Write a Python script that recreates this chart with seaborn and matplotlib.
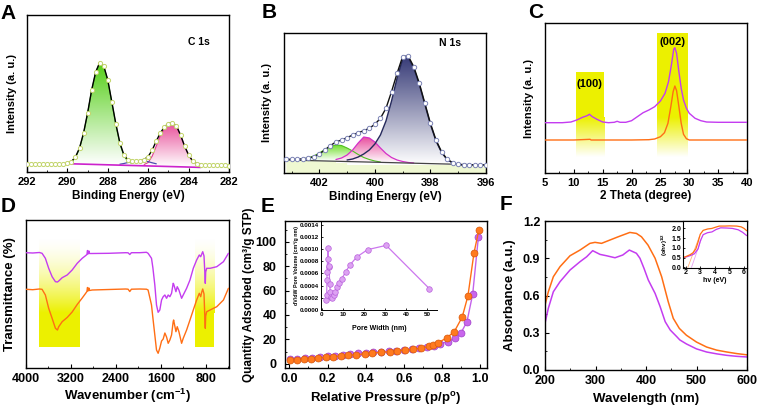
import numpy as np
import matplotlib
matplotlib.use("Agg")
import matplotlib.pyplot as plt
import seaborn as sns
from matplotlib.colors import LinearSegmentedColormap
from matplotlib.patches import Rectangle
from matplotlib.ticker import MultipleLocator, FormatStrFormatter

# =========================
# DATA
# =========================

# A - C 1s XPS
a_env_x = [292.0, 291.8, 291.6, 291.4, 291.2, 291.0, 290.8, 290.6, 290.4, 290.2,
           290.0, 289.8, 289.6, 289.4, 289.2, 289.0, 288.8, 288.6, 288.4, 288.2,
           288.0, 287.8, 287.6, 287.4, 287.2, 287.0, 286.8, 286.6, 286.4, 286.2,
           286.0, 285.8, 285.6, 285.4, 285.2, 285.0, 284.8, 284.6, 284.4, 284.2,
           284.0, 283.8, 283.6, 283.4, 283.2, 283.0, 282.8, 282.6, 282.4, 282.2, 282.0]
a_env_y = [7.7, 7.7, 7.7, 7.7, 7.7, 7.7, 7.7, 7.8, 7.9, 8.1,
           8.6, 10.5, 15.0, 24.0, 39.0, 59.0, 82.0, 100.0, 109.5, 106.0,
           92.0, 70.0, 48.0, 29.0, 17.0, 12.0, 11.0, 11.0, 11.2, 12.5,
           15.5, 22.0, 31.0, 39.0, 45.0, 48.5, 49.5, 46.0, 37.0, 26.0,
           17.0, 11.0, 8.5, 7.5, 7.2, 7.0, 6.9, 6.8, 6.7, 6.6, 6.5]
a_green_x = [290.0, 289.8, 289.6, 289.4, 289.2, 289.0, 288.8, 288.6, 288.4, 288.2,
             288.0, 287.8, 287.6, 287.4, 287.2, 287.0, 286.8]
a_green_y = [8.3, 10.0, 14.5, 23.5, 38.5, 58.5, 81.5, 99.5, 109.0, 105.5,
             91.5, 69.5, 47.0, 28.0, 16.0, 10.5, 8.5]
a_pink_x = [286.2, 286.0, 285.8, 285.6, 285.4, 285.2, 285.0, 284.8, 284.6, 284.4,
            284.2, 284.0, 283.8, 283.6, 283.4]
a_pink_y = [7.5, 9.5, 16.0, 26.0, 36.5, 43.5, 48.0, 49.5, 46.0, 37.0,
            26.0, 17.0, 11.0, 8.2, 7.0]
a_blue_x = [287.4, 287.2, 287.0, 286.8, 286.6, 286.4, 286.2, 286.0, 285.8, 285.6]
a_blue_y = [7.8, 8.5, 9.5, 10.5, 11.2, 11.5, 11.2, 10.3, 9.2, 8.2]
a_base_x = [289.8, 283.4]
a_base_y = [8.2, 4.6]

# B - N 1s XPS
b_env_x = [403.2, 403.0, 402.8, 402.6, 402.4, 402.2, 402.0, 401.8, 401.6, 401.4,
           401.2, 401.0, 400.8, 400.6, 400.4, 400.2, 400.0, 399.8, 399.6, 399.4,
           399.2, 399.0, 398.8, 398.6, 398.4, 398.2, 398.0, 397.8, 397.6, 397.4,
           397.2, 397.0, 396.8, 396.6, 396.4, 396.2, 396.0]
b_env_y = [13.7, 13.7, 13.7, 14.2, 14.8, 16.3, 19.0, 23.0, 27.5, 31.0,
           33.0, 35.3, 38.0, 40.3, 42.3, 44.7, 48.7, 54.7, 64.7, 81.3,
           99.7, 116.5, 117.0, 106.3, 89.7, 69.7, 49.7, 33.0, 21.3, 13.7,
           10.3, 8.7, 8.0, 8.0, 8.0, 8.0, 8.0]
b_green_x = [402.6, 402.4, 402.2, 402.0, 401.8, 401.6, 401.4, 401.2, 401.0, 400.8,
             400.6, 400.4, 400.2, 400.0, 399.8]
b_green_y = [14.0, 15.0, 17.0, 20.0, 23.5, 26.5, 28.0, 27.5, 25.0, 22.0,
             18.5, 15.5, 13.5, 12.0, 11.0]
b_pink_x = [401.4, 401.2, 401.0, 400.8, 400.6, 400.4, 400.2, 400.0, 399.8, 399.6,
            399.4, 399.2, 399.0, 398.8, 398.6]
b_pink_y = [13.5, 15.0, 18.0, 23.0, 30.0, 36.0, 35.0, 31.0, 25.0, 19.5,
            15.5, 13.0, 11.5, 10.5, 10.0]
b_blue_x = [401.0, 400.8, 400.6, 400.4, 400.2, 400.0, 399.8, 399.6, 399.4, 399.2,
            399.0, 398.8, 398.6, 398.4, 398.2, 398.0, 397.8, 397.6, 397.4, 397.2,
            397.0, 396.8]
b_blue_y = [13.0, 14.0, 16.0, 19.0, 23.0, 29.0, 38.0, 52.0, 72.0, 95.0,
            114.0, 115.5, 105.0, 88.5, 68.5, 48.5, 32.0, 20.5, 13.5, 10.0,
            8.5, 8.0]
b_base_x = [403.2, 396.0]
b_base_y = [13.0, 8.0]

# C - XRD
c_x_m = [5, 8, 9.5, 10.5, 11.5, 12.3, 12.7, 13.2, 14, 15,
         16, 17, 17.5, 18, 19, 20, 21, 22, 23, 24,
         25, 25.8, 26.4, 26.9, 27.3, 27.5, 27.8, 28.2, 28.6, 29.0,
         29.5, 30, 31, 32, 33, 35, 40]
c_y_m = [50.3, 50.3, 51, 53, 55.7, 57.3, 58.7, 56.3, 53.7, 51,
         50.3, 50.7, 51.7, 50.7, 50.7, 52.3, 56.3, 60.3, 63, 66.3,
         72, 79.7, 91.3, 108, 123.7, 125.3, 119.7, 101.3, 84.7, 73,
         64.7, 59.7, 54.7, 52.3, 51, 50.7, 50.7]
c_x_o = [5, 10, 12.8, 13, 20, 23, 24, 25, 25.7, 26.3,
         26.8, 27.2, 27.5, 27.8, 28.2, 28.6, 29.0, 29.5, 30, 40]
c_y_o = [33, 33, 33.7, 33, 33, 33.3, 34, 36.3, 40.3, 49.7,
         66.3, 81.3, 87, 82.3, 66.3, 49.7, 38.7, 34.3, 33, 33]
c_bands = [(10.3, 15.2, 101.0, "(100)", 12.75, 89.0),
           (24.4, 29.7, 140.0, "(002)", 27.1, 131.0)]

# D - FTIR
d_wn = [4000, 3880, 3762, 3714, 3655, 3596, 3535, 3476, 3440, 3417,
        3356, 3267, 3178, 3088, 2999, 2940, 2915, 2905, 2895, 2880,
        2870, 2820, 2523, 2225, 2182, 2152, 2123, 1974, 1855, 1826,
        1765, 1740, 1706, 1676, 1647, 1617, 1586, 1557, 1527, 1497,
        1468, 1438, 1408, 1379, 1371, 1330, 1307, 1277, 1229, 1200,
        1140, 1080, 1021, 961, 914, 889, 870, 853, 830, 815,
        807, 800, 782, 722, 603, 484, 395]
d_m = [115.3, 115.0, 115.5, 114.7, 109.7, 99.7, 91.3, 86.3, 86.0, 87.0,
       90.3, 93.0, 98.0, 104.7, 109.7, 112.3, 113.5, 117.5, 114.0, 117.0,
       114.5, 114.5, 114.7, 115.3, 115.2, 113.5, 115.3, 115.3, 115.7, 114.7,
       109.7, 100.0, 83.0, 63.0, 55.7, 58.0, 68.0, 71.3, 73.0, 69.7,
       73.0, 71.3, 74.7, 84.7, 84.0, 76.3, 81.3, 78.0, 69.7, 73.0,
       79.7, 88.0, 99.7, 108.0, 113.0, 111.3, 114.0, 116.3, 112.0, 95.0,
       84.7, 96.0, 99.7, 99.7, 101.3, 106.3, 114.7]
d_o = [78.7, 78.3, 79.0, 78.7, 73.0, 59.7, 49.7, 39.7, 38.0, 41.3,
       46.3, 50.5, 56.0, 63.5, 70.0, 74.5, 76.5, 80.5, 77.0, 80.0,
       77.5, 78.0, 78.5, 79.0, 78.8, 76.5, 78.8, 79.0, 78.8, 78.0,
       63.0, 50.0, 33.0, 18.0, 14.7, 20.0, 27.0, 29.0, 35.0, 31.0,
       24.7, 28.0, 33.0, 46.3, 48.0, 36.3, 41.3, 36.3, 24.7, 29.7,
       38.0, 48.0, 58.0, 68.0, 74.7, 71.3, 76.0, 79.0, 74.0, 50.0,
       39.7, 52.0, 56.3, 58.0, 61.3, 68.0, 79.7]
d_bands = [(3762, 3047), (991, 651)]

# E - N2 isotherm + pore size distribution
e_p_o = [0.005, 0.038, 0.077, 0.113, 0.151, 0.19, 0.23, 0.27, 0.308, 0.348,
         0.395, 0.433, 0.482, 0.526, 0.566, 0.604, 0.648, 0.691, 0.73, 0.752,
         0.78, 0.823, 0.864, 0.905, 0.935, 0.967, 0.993]
e_q_o = [3.0, 3.4, 3.9, 4.2, 4.7, 5.3, 5.9, 6.4, 6.9, 7.4,
         8.1, 8.7, 9.3, 9.9, 10.6, 11.2, 11.8, 12.8, 14.2, 15.5,
         17.4, 21.0, 26.4, 38.2, 55.5, 91.0, 110.0]
e_p_m = [0.005, 0.04, 0.08, 0.12, 0.16, 0.2, 0.24, 0.28, 0.32, 0.36,
         0.40, 0.44, 0.48, 0.52, 0.56, 0.60, 0.64, 0.68, 0.72, 0.76,
         0.79, 0.83, 0.87, 0.90, 0.93, 0.96, 0.99]
e_q_m = [3.5, 4.0, 4.5, 5.0, 5.5, 6.0, 6.5, 7.2, 7.8, 8.6,
         9.0, 9.4, 9.8, 10.3, 10.8, 11.3, 11.9, 12.6, 13.5, 14.8,
         16.1, 18.2, 21.5, 25.6, 34.5, 57.0, 104.0]
e_pw = [2.2, 2.4, 2.5, 2.6, 2.8, 3.0, 3.3, 3.5, 3.8, 4.1, 4.5, 5.0,
        5.7, 6.5, 7.4, 8.4, 9.5, 11.4, 13.4, 16.6, 21.7, 30.5, 50.9]
e_dv = [0.00016, 0.00025, 0.0005, 0.00062, 0.00083, 0.00101, 0.0007, 0.00072,
        0.00043, 0.00029, 0.00022, 0.0002, 0.00024, 0.0003, 0.00037, 0.00044,
        0.00051, 0.00063, 0.00074, 0.00087, 0.00099, 0.00106, 0.00035]

# F - UV-vis + Tauc plot
f_wl_o = [200, 206.6, 216.5, 229.7, 249.5, 269.3, 289, 299, 312, 325,
          345, 368, 381, 391, 404, 418, 431, 444, 454, 466,
          480, 500, 520, 540, 560, 580, 600]
f_a_o = [0.523, 0.63, 0.751, 0.832, 0.92, 0.966, 1.02, 1.028, 1.02, 1.041,
         1.073, 1.108, 1.10, 1.073, 1.006, 0.90, 0.751, 0.55, 0.416, 0.335,
         0.28, 0.225, 0.185, 0.16, 0.145, 0.132, 0.122]
f_wl_m = [200, 206.6, 216.5, 229.7, 249.5, 269.3, 282.5, 294.4, 309, 322,
          338.6, 354, 367, 381, 388, 396, 404.5, 418, 428, 438,
          448, 461, 467, 480, 500, 520, 540, 560, 580, 600]
f_a_m = [0.376, 0.497, 0.63, 0.711, 0.805, 0.872, 0.912, 0.961, 0.931, 0.92,
         0.904, 0.926, 0.966, 0.94, 0.90, 0.819, 0.725, 0.617, 0.51, 0.389,
         0.322, 0.268, 0.242, 0.21, 0.17, 0.145, 0.13, 0.118, 0.11, 0.105]
fi_x_o = [1.82, 2.0, 2.3, 2.5, 2.7, 2.85, 3.0, 3.2, 3.5, 3.8, 4.0, 4.3,
          4.7, 5.0, 5.5, 5.8, 6.0, 6.18]
fi_y_o = [0.5, 0.55, 0.65, 0.75, 0.95, 1.3, 1.7, 1.9, 1.97, 2.0, 2.05, 2.12,
          2.12, 2.13, 2.12, 2.08, 2.0, 1.88]
fi_x_m = [1.82, 2.0, 2.3, 2.6, 2.85, 3.0, 3.2, 3.5, 3.8, 4.1, 4.4, 4.8,
          5.2, 5.6, 5.9, 6.18]
fi_y_m = [0.5, 0.53, 0.6, 0.7, 0.95, 1.35, 1.68, 1.78, 1.82, 1.95, 2.03, 2.02,
          2.0, 1.93, 1.8, 1.63]
fi_tan_o = ([2.15, 2.95], [0.0, 1.6])
fi_tan_m = ([2.4, 3.05], [0.0, 1.4])

# =========================
# STYLE
# =========================

ORANGE = "#ff6e14"
PURPLE = "#c43cf0"
YELLOW = "#ecf000"

sns.set_style("ticks")
plt.rcParams["font.family"] = ["Liberation Sans", "DejaVu Sans"]
plt.rcParams["font.weight"] = "bold"
plt.rcParams["axes.labelweight"] = "bold"
plt.rcParams["mathtext.fontset"] = "custom"
plt.rcParams["mathtext.rm"] = "Liberation Sans:bold"
plt.rcParams["mathtext.bf"] = "Liberation Sans:bold"
plt.rcParams["mathtext.it"] = "Liberation Sans:bold:italic"
plt.rcParams["mathtext.default"] = "bf"
for k in ["axes.edgecolor", "text.color", "axes.labelcolor", "xtick.color", "ytick.color"]:
    plt.rcParams[k] = "black"
plt.rcParams["axes.linewidth"] = 1.0
plt.rcParams["xtick.direction"] = "in"
plt.rcParams["ytick.direction"] = "in"
plt.rcParams["xtick.major.size"] = 3
plt.rcParams["ytick.major.size"] = 3
plt.rcParams["xtick.minor.size"] = 1.5
plt.rcParams["ytick.minor.size"] = 1.5

W, H = 759, 408
fig = plt.figure(figsize=(W / 100, H / 100), dpi=100)


def box(l, t, r, b):
    return fig.add_axes([l / W, 1 - b / H, (r - l) / W, (b - t) / H])


def grad_fill(ax, x, y, base, color, z=1):
    poly = ax.fill_between(x, y, base, facecolor="none", edgecolor="none")
    cmap = LinearSegmentedColormap.from_list("fade", ["white", color])
    ramp = np.linspace(0, 1, 200).reshape(-1, 1)
    im = ax.imshow(ramp, cmap=cmap, origin="lower", aspect="auto",
                   extent=(min(x), max(x), base, max(y)), zorder=z)
    im.set_clip_path(poly.get_paths()[0], transform=ax.transData)


def band(ax, x0, x1, y_lo, y_mid, y_hi, color, solid_top=True):
    cmap = LinearSegmentedColormap.from_list("band", ["white", color])
    ramp = np.linspace(0, 1, 200).reshape(-1, 1)
    if solid_top:
        ax.fill_between([x0, x1], y_mid, y_hi, color=color, lw=0, zorder=0)
        ax.imshow(ramp, cmap=cmap, origin="lower", aspect="auto",
                  extent=(min(x0, x1), max(x0, x1), y_lo, y_mid), zorder=0)
    else:
        ax.fill_between([x0, x1], y_lo, y_mid, color=color, lw=0, zorder=0)
        ax.imshow(ramp[::-1] ** 1.6, cmap=cmap, origin="lower", aspect="auto",
                  extent=(min(x0, x1), max(x0, x1), y_mid, y_hi), zorder=0)


def letter(x, y, s):
    fig.text(x / W, 1 - y / H, s, fontsize=15, fontweight="bold", ha="center", va="center")


# =========================
# A - C 1s
# =========================

axA = box(27, 15, 229, 172)
grad_fill(axA, a_green_x, a_green_y, 7.5, "#55cf18")
grad_fill(axA, a_pink_x, a_pink_y, 5.0, "#e84c98")
sns.lineplot(x=a_green_x, y=a_green_y, ax=axA, color="#3fae1c", lw=0.8, sort=False, zorder=2)
sns.lineplot(x=a_pink_x, y=a_pink_y, ax=axA, color="#e0408f", lw=0.8, sort=False, zorder=2)
sns.lineplot(x=a_blue_x, y=a_blue_y, ax=axA, color="#4b4fb0", lw=0.9, sort=False, zorder=2)
sns.lineplot(x=a_base_x, y=a_base_y, ax=axA, color="#cc22cc", lw=1.2, sort=False, zorder=2)
sns.lineplot(x=a_env_x[9:44], y=a_env_y[9:44], ax=axA, color="black", lw=1.0, sort=False, zorder=3)
sns.scatterplot(x=a_env_x, y=a_env_y, ax=axA, s=9, color="white", edgecolor="#c2d46a",
                linewidth=0.7, zorder=4)
axA.text(283.5, 130, "C 1s", fontsize=7.5, fontweight="bold", ha="center", va="center")
axA.set_xlim(292, 282)
axA.set_ylim(0, 157)
axA.xaxis.set_major_locator(MultipleLocator(2))
axA.xaxis.set_minor_locator(MultipleLocator(1))
axA.set_yticks([])
axA.tick_params(labelsize=8)
axA.set_xlabel("Binding Energy (eV)", fontsize=8.5)
axA.set_ylabel("Intensity (a. u.)", fontsize=8)
axA.xaxis.set_label_coords(0.5, -0.115)
axA.yaxis.set_label_coords(-0.05, 0.5)

# =========================
# B - N 1s
# =========================

axB = box(284, 33, 486, 173)
axB.fill_between(b_base_x, b_base_y, 0, color="#eff8d2", lw=0, zorder=0)
grad_fill(axB, b_blue_x, b_blue_y, 8.0, "#383c78")
grad_fill(axB, b_green_x, b_green_y, 12.0, "#6add22")
grad_fill(axB, b_pink_x, b_pink_y, 10.0, "#e8489a")
sns.lineplot(x=b_green_x, y=b_green_y, ax=axB, color="#50c020", lw=0.8, sort=False, zorder=2)
sns.lineplot(x=b_pink_x, y=b_pink_y, ax=axB, color="#d430c8", lw=0.9, sort=False, zorder=2)
sns.lineplot(x=b_blue_x, y=b_blue_y, ax=axB, color="#262a5c", lw=1.0, sort=False, zorder=2)
sns.lineplot(x=b_base_x, y=b_base_y, ax=axB, color="#444444", lw=0.9, sort=False, zorder=2)
sns.lineplot(x=b_env_x, y=b_env_y, ax=axB, color="#111111", lw=1.0, sort=False, zorder=3)
sns.scatterplot(x=b_env_x, y=b_env_y, ax=axB, s=10, color="white", edgecolor="#7b82b4",
                linewidth=0.7, zorder=4)
axB.text(397.3, 130, "N 1s", fontsize=7.5, fontweight="bold", ha="center", va="center")
axB.set_xlim(403.27, 396)
axB.set_ylim(0, 140)
axB.set_xticks([402, 400, 398, 396])
axB.xaxis.set_minor_locator(MultipleLocator(1))
axB.set_yticks([])
axB.tick_params(labelsize=8)
axB.set_xlabel("Binding Energy (eV)", fontsize=8.5)
axB.set_ylabel("Intensity (a. u.)", fontsize=8)
axB.xaxis.set_label_coords(0.5, -0.13)
axB.yaxis.set_label_coords(-0.058, 0.5)

# =========================
# C - XRD
# =========================

axC = box(545, 23, 747, 173)
for x0, x1, top, lab, lx, ly in c_bands:
    band(axC, x0, x1, 16, 55, top, YELLOW, solid_top=True)
    axC.text(lx, ly, lab, fontsize=8, fontweight="bold", ha="center", va="center", zorder=5)
sns.lineplot(x=c_x_m, y=c_y_m, ax=axC, color=PURPLE, lw=1.0, sort=False, zorder=3)
sns.lineplot(x=c_x_o, y=c_y_o, ax=axC, color=ORANGE, lw=1.0, sort=False, zorder=3)
axC.set_xlim(5, 40)
axC.set_ylim(0, 150)
axC.xaxis.set_major_locator(MultipleLocator(5))
axC.xaxis.set_minor_locator(MultipleLocator(2.5))
axC.set_yticks([])
axC.tick_params(labelsize=8)
axC.set_xlabel("2 Theta (degree)", fontsize=8.5)
axC.set_ylabel("Intensity (a. u.)", fontsize=8)
axC.xaxis.set_label_coords(0.5, -0.115)
axC.yaxis.set_label_coords(-0.056, 0.5)

# =========================
# D - FTIR
# =========================

axD = box(26, 220, 229, 368)
for x0, x1 in d_bands:
    band(axD, x0, x1, 21.3, 55, 131, YELLOW, solid_top=False)
sns.lineplot(x=d_wn, y=d_m, ax=axD, color=PURPLE, lw=1.0, sort=False, zorder=3)
sns.lineplot(x=d_wn, y=d_o, ax=axD, color=ORANGE, lw=1.0, sort=False, zorder=3)
axD.set_xlim(4000, 385)
axD.set_ylim(0, 148)
axD.xaxis.set_major_locator(MultipleLocator(800))
axD.xaxis.set_minor_locator(MultipleLocator(400))
axD.set_yticks([])
axD.tick_params(labelsize=9)
axD.set_xlabel("Wavenumber (cm$^{-1}$)", fontsize=9.5)
axD.set_ylabel("Transmittance (%)", fontsize=9.5)
axD.xaxis.set_label_coords(0.5, -0.13)
axD.yaxis.set_label_coords(-0.049, 0.5)

# =========================
# E - BET
# =========================

axE = box(285, 221, 487, 368)
sns.lineplot(x=e_p_m, y=e_q_m, ax=axE, color="#c462ea", lw=1.0, sort=False, marker="o",
             markersize=5, markerfacecolor="#c866ec", markeredgecolor="#a040c8",
             markeredgewidth=0.5, zorder=3)
sns.lineplot(x=e_p_o, y=e_q_o, ax=axE, color=ORANGE, lw=1.0, sort=False, marker="o",
             markersize=5, markerfacecolor="#ff7a1e", markeredgecolor="#d85808",
             markeredgewidth=0.5, zorder=4)
axE.set_xlim(-0.023, 1.035)
axE.set_ylim(-3.5, 117)
axE.xaxis.set_major_locator(MultipleLocator(0.2))
axE.xaxis.set_minor_locator(MultipleLocator(0.1))
axE.xaxis.set_major_formatter(FormatStrFormatter("%.1f"))
axE.yaxis.set_major_locator(MultipleLocator(20))
axE.yaxis.set_minor_locator(MultipleLocator(10))
axE.tick_params(labelsize=9)
axE.tick_params(axis="y", pad=6)
axE.set_xlabel("Relative Pressure (p/p$^{o}$)", fontsize=9.5)
axE.set_ylabel("Quantity Adsorbed (cm³/g STP)", fontsize=8.5)
axE.xaxis.set_label_coords(0.5, -0.15)
axE.yaxis.set_label_coords(-0.148, 0.5)

axEi = box(321, 221, 437, 310)
axEi.set_facecolor("none")
sns.lineplot(x=e_pw, y=e_dv, ax=axEi, color="#cc77ee", lw=0.9, sort=False, marker="o",
             markersize=4, markerfacecolor="#dda2f2", markeredgecolor="#b860dc",
             markeredgewidth=0.5)
axEi.set_xlim(-0.3, 54.5)
axEi.set_ylim(0, 0.00146)
axEi.spines["top"].set_visible(False)
axEi.spines["right"].set_visible(False)
axEi.spines["left"].set_linewidth(0.7)
axEi.spines["bottom"].set_linewidth(0.7)
axEi.xaxis.set_major_locator(MultipleLocator(10))
axEi.yaxis.set_major_locator(MultipleLocator(0.0002))
axEi.yaxis.set_major_formatter(FormatStrFormatter("%.4f"))
axEi.tick_params(labelsize=4.5, pad=1.5, length=1.5, width=0.6)
axEi.set_xlabel("Pore Width (nm)", fontsize=5)
axEi.set_ylabel("dV/dW Pore Volume (cm³/g nm)", fontsize=3.8)
axEi.xaxis.set_label_coords(0.5, -0.17)
axEi.yaxis.set_label_coords(-0.19, 0.5)

# =========================
# F - UV-vis
# =========================

axF = box(545, 221, 747, 370)
sns.lineplot(x=f_wl_m, y=f_a_m, ax=axF, color=PURPLE, lw=1.1, sort=False)
sns.lineplot(x=f_wl_o, y=f_a_o, ax=axF, color=ORANGE, lw=1.1, sort=False)
axF.set_xlim(200, 600)
axF.set_ylim(0, 1.2)
axF.xaxis.set_major_locator(MultipleLocator(100))
axF.xaxis.set_minor_locator(MultipleLocator(50))
axF.yaxis.set_major_locator(MultipleLocator(0.3))
axF.yaxis.set_minor_locator(MultipleLocator(0.15))
axF.yaxis.set_major_formatter(FormatStrFormatter("%.1f"))
axF.tick_params(labelsize=9)
axF.set_xlabel("Wavelength (nm)", fontsize=9.5)
axF.set_ylabel("Absorbance (a.u.)", fontsize=9.5)
axF.xaxis.set_label_coords(0.5, -0.155)
axF.yaxis.set_label_coords(-0.146, 0.5)

axFi = box(683, 221, 747, 268)
sns.lineplot(x=fi_tan_o[0], y=fi_tan_o[1], ax=axFi, color="#ffb07a", lw=0.6, sort=False)
sns.lineplot(x=fi_tan_m[0], y=fi_tan_m[1], ax=axFi, color="#e6a0f2", lw=0.6, sort=False)
sns.lineplot(x=fi_x_m, y=fi_y_m, ax=axFi, color=PURPLE, lw=0.9, sort=False)
sns.lineplot(x=fi_x_o, y=fi_y_o, ax=axFi, color=ORANGE, lw=0.9, sort=False)
axFi.set_xlim(1.82, 6.2)
axFi.set_ylim(-0.03, 2.38)
axFi.set_xticks([2, 3, 4, 5, 6])
axFi.set_yticks([0.0, 0.5, 1.0, 1.5, 2.0])
axFi.yaxis.set_major_formatter(FormatStrFormatter("%.1f"))
for sp in axFi.spines.values():
    sp.set_linewidth(0.8)
axFi.tick_params(labelsize=5, pad=1, length=1.5, width=0.6)
axFi.set_xlabel("hv (eV)", fontsize=5, labelpad=0.5)
axFi.set_ylabel("(αhv)$^{1/2}$", fontsize=4.5, labelpad=1)

# =========================
# PANEL LETTERS + SAVE
# =========================

# the lower panels sit over the bottom of the B axis title in the original
fig.patches.append(Rectangle((300 / W, 1 - 216 / H), 180 / W, 14.5 / H,
                             transform=fig.transFigure, facecolor="white",
                             edgecolor="none", zorder=5))

letter(8.5, 13.5, "A")
letter(269, 13, "B")
letter(536, 13, "C")
letter(8, 206, "D")
letter(267.5, 207, "E")
letter(506, 205, "F")

fig.savefig("out.png", dpi=100)
